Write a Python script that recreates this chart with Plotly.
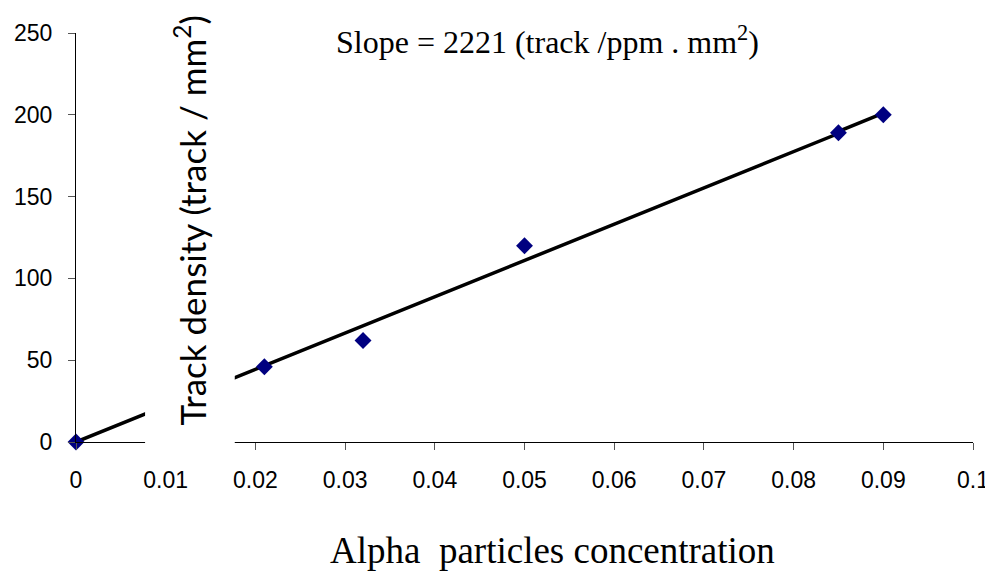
import plotly.graph_objects as go

# Data
conc = [0, 0.021, 0.032, 0.05, 0.085, 0.09]
density = [0, 46, 62, 120, 189, 200]

# Fitted line (with slight kink near 0.085 as in the reference)
fit_x = [0, 0.0845, 0.0855, 0.09]
fit_y = [0, 187.5, 191, 201]

x_ticks = [0, 0.01, 0.02, 0.03, 0.04, 0.05, 0.06, 0.07, 0.08, 0.09, 0.1]
x_tick_text = ["0", "0.01", "0.02", "0.03", "0.04", "0.05", "0.06", "0.07", "0.08", "0.09", "0.1"]
y_ticks = [0, 50, 100, 150, 200, 250]

fig = go.Figure()
fig.add_trace(go.Scatter(x=fit_x, y=fit_y, mode="lines",
                         line=dict(color="black", width=3.5),
                         showlegend=False))
fig.add_trace(go.Scatter(x=conc, y=density, mode="markers",
                         marker=dict(symbol="diamond", size=13, color="#000080"),
                         showlegend=False, cliponaxis=False))

fig.update_layout(
    width=985, height=573,
    margin=dict(l=68, r=20, t=25, b=139, autoexpand=False),
    paper_bgcolor="white", plot_bgcolor="white",
    font=dict(family="Liberation Sans, Arial", size=23, color="black"),
    xaxis=dict(range=[0, 0.1], tickvals=x_ticks, ticktext=x_tick_text, automargin=False,
               showgrid=False, zeroline=False, showline=True, linecolor="black", linewidth=1,
               ticks="outside", ticklen=7, tickcolor="#555555", ticklabelstandoff=10,
               ticklabeloverflow="allow"),
    yaxis=dict(range=[0, 250], tickvals=y_ticks, automargin=False,
               showgrid=False, zeroline=False, showline=True, linecolor="black", linewidth=1,
               ticks="outside", ticklen=7, tickcolor="#555555", ticklabelstandoff=11),
)

# White box of the misplaced y-axis title covering the line and axis
fig.add_shape(type="rect", xref="x", yref="paper",
              x0=0.0077, x1=0.0177, y0=-0.03, y1=1.1,
              fillcolor="white", line=dict(width=0), layer="above")

fig.add_annotation(text="Track density (track / mm<sup>2</sup>)", textangle=-90,
                   xref="x", yref="paper", x=0.0127, y=0.035, xanchor="center", yanchor="bottom",
                   showarrow=False, font=dict(family="Lato", size=35, color="black"))

fig.add_annotation(text="Slope = 2221 (track /ppm . mm<sup>2</sup>)",
                   xref="x", yref="paper", x=0.0526, y=0.983, xanchor="center", yanchor="middle",
                   showarrow=False, font=dict(family="Liberation Serif, Times New Roman", size=32, color="black"))

fig.add_annotation(text="Alpha  particles concentration",
                   xref="paper", yref="paper", x=0.531, y=-0.266, xanchor="center", yanchor="middle",
                   showarrow=False, font=dict(family="Liberation Serif, Times New Roman", size=37, color="black"))

fig.write_html("out.html")
